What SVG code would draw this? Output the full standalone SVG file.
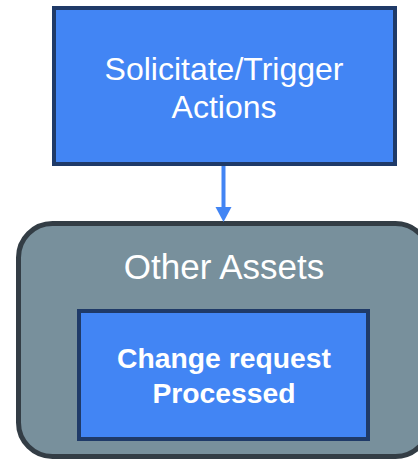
<svg xmlns="http://www.w3.org/2000/svg" width="418" height="460" viewBox="0 0 418 460">
  <style>
    .blue { fill: #4285F4; stroke: #1F3A68; stroke-width: 4; }
    .group { fill: #78909C; stroke: #333D45; stroke-width: 5; }
    .t { font-family: "Liberation Sans", Arial, sans-serif; fill: #FFFFFF; text-anchor: middle; }
  </style>
  <rect width="418" height="460" fill="#FFFFFF"/>
  <g id="node-other-assets">
    <rect class="group" x="18.5" y="223.5" width="411" height="233" rx="34" ry="34"/>
    <text class="t" x="224" y="279" font-size="35">Other Assets</text>
  </g>
  <g id="node-solicitate">
    <rect class="blue" x="54" y="8" width="341" height="156"/>
    <text class="t" x="224" y="80" font-size="32">Solicitate/Trigger</text>
    <text class="t" x="224" y="118" font-size="32">Actions</text>
  </g>
  <g id="node-change-request">
    <rect class="blue" x="79" y="311" width="289" height="128"/>
    <text class="t" x="224" y="368" font-size="28.3" font-weight="bold">Change request</text>
    <text class="t" x="224" y="403" font-size="28.3" font-weight="bold">Processed</text>
  </g>
  <g id="connectors">
    <line x1="223.5" y1="166" x2="223.5" y2="208" stroke="#4285F4" stroke-width="4"/>
    <path d="M215.5,207 L231.5,207 L223.5,222 Z" fill="#4285F4"/>
  </g>
</svg>
